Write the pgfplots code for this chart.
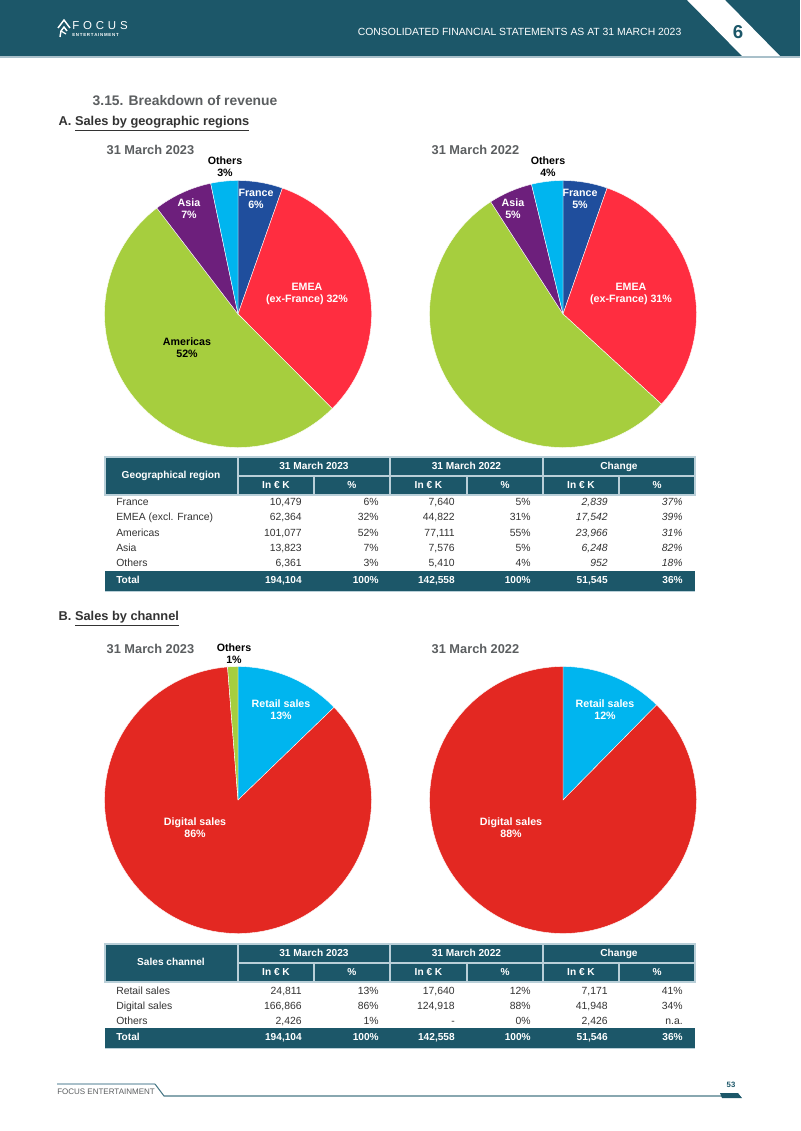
\documentclass[border=0pt]{standalone}
\usepackage{fontspec}
\setmainfont{Liberation Sans}
\usepackage{pgfplots}
\pgfplotsset{compat=1.18}

\definecolor{focusteal}{HTML}{1C5769}
\definecolor{headline}{HTML}{A9C0CA}
\definecolor{gridc}{HTML}{B9CFD8}
\definecolor{titlegray}{HTML}{5B5E60}
\definecolor{bodytext}{HTML}{333333}
\definecolor{geoFrance}{HTML}{1F4E9D}
\definecolor{geoEMEA}{HTML}{FF2D40}
\definecolor{geoAmericas}{HTML}{A6CE3E}
\definecolor{geoAsia}{HTML}{6D1F7C}
\definecolor{geoOthers}{HTML}{00B5EF}
\definecolor{chRetail}{HTML}{00B5EF}
\definecolor{chDigital}{HTML}{E32822}
\definecolor{chOthers}{HTML}{A6CE3E}

% pie radius (133.5 px at 0.75 pt per px)
\newcommand\pieR{100.125pt}

% slices clockwise from 12 o'clock; #1 = value/colour list.
% The paths are collected in a global list first, then issued
% at the top level of the axis so that pgfplots keeps them.
\newcommand\pieslices[1]{%
  \gdef\pietotal{0}%
  \foreach \v/\c in {#1} {\xdef\pietotal{\fpeval{\pietotal+\v}}}%
  \gdef\piecum{0}\gdef\pielist{}%
  \foreach \v/\c in {#1} {%
    \xdef\pa{\fpeval{90-360*\piecum/\pietotal}}%
    \xdef\piecum{\fpeval{\piecum+\v}}%
    \xdef\pb{\fpeval{90-360*\piecum/\pietotal}}%
    \ifnum\fpeval{\v>0}=1
      \xdef\pielist{\unexpanded\expandafter{\pielist}%
        \noexpand\fill[\c, draw=white, line width=0.3pt]
        (axis cs:0,0) -- (axis cs:\fpeval{cosd(\pa)},\fpeval{sind(\pa)})
        arc[start angle=\pa, end angle=\pb, radius=\pieR] -- cycle;}%
    \fi
  }%
  \pielist
}

% pie axis centred at page pixel (#1,#2)
\newcommand\pieaxis[3]{%
  \begin{axis}[at={({#1*0.75pt},{-#2*0.75pt})}, anchor=center, x=\pieR, y=\pieR,
    xmin=-1, xmax=1, ymin=-1, ymax=1, hide axis, clip=false]
    \pieslices{#3}
  \end{axis}}

\tikzset{
  plab/.style={font=\bfseries\fontsize{8}{9.2}\selectfont, align=center, text=white},
  plabk/.style={plab, text=black},
  sect/.style={anchor=west, font=\bfseries\fontsize{9.6}{12}\selectfont},
  th/.style={font=\bfseries\fontsize{7.6}{9}\selectfont, text=white,
    inner sep=0pt, text height=5.6pt, text depth=1.6pt},
  td/.style={font=\fontsize{7.8}{9}\selectfont, text=bodytext,
    inner sep=0pt, text height=5.6pt, text depth=1.6pt},
}

% table header: #1 top y, #2 first column title
\newcommand\tablehead[2]{%
  \fill[focusteal] (105,#1) rectangle (695,#1+38);
  \draw[gridc, line width=0.9pt] (105,#1) rectangle (695,#1+38);
  \draw[gridc, line width=0.9pt] (238,#1) -- (238,#1+38)
     (390,#1) -- (390,#1+38) (543,#1) -- (543,#1+38)
     (238,#1+19) -- (695,#1+19)
     (314,#1+19) -- (314,#1+38) (467,#1+19) -- (467,#1+38) (619,#1+19) -- (619,#1+38);
  \node[th] at (171,#1+19) {#2};
  \node[th] at (314,#1+9.5) {31 March 2023};
  \node[th] at (466.5,#1+9.5) {31 March 2022};
  \node[th] at (619,#1+9.5) {Change};
  \foreach \cx/\t in {276/In € K, 352/\%, 428.5/In € K, 505/\%, 581/In € K, 657/\%}
    \node[th] at (\cx,#1+28.5) {\t};
}

% body row: #1 y, #2 label, #3..#8 values, #9 font switch for change columns
\newcommand\trow[9]{%
  \node[td, anchor=west] at (116,#1) {#2};
  \node[td, anchor=east] at (302,#1) {#3};
  \node[td, anchor=east] at (379,#1) {#4};
  \node[td, anchor=east] at (455,#1) {#5};
  \node[td, anchor=east] at (531,#1) {#6};
  \node[td, anchor=east] at (608,#1) {#9#7};
  \node[td, anchor=east] at (683,#1) {#9#8};
}

% total row: #1 top y, #2..#7 values
\newcommand\ttotal[7]{%
  \fill[focusteal] (105,#1) rectangle (695,#1+20);
  \draw[gridc, line width=0.6pt] (105,#1+20) -- (695,#1+20);
  \node[th, anchor=west] at (116,#1+10) {Total};
  \node[th, anchor=east] at (302,#1+10) {#2};
  \node[th, anchor=east] at (379,#1+10) {#3};
  \node[th, anchor=east] at (455,#1+10) {#4};
  \node[th, anchor=east] at (531,#1+10) {#5};
  \node[th, anchor=east] at (608,#1+10) {#6};
  \node[th, anchor=east] at (683,#1+10) {#7};
}

\begin{document}
\begin{tikzpicture}[x=0.75pt, y=-0.75pt]
\useasboundingbox (0,0) rectangle (800,1131);
\fill[white] (0,0) rectangle (800,1131);

% ---- page header ----
\fill[focusteal] (0,0) rectangle (800,56);
\fill[headline] (0,56) rectangle (800,58);
\fill[white] (687,0) -- (725,0) -- (780,56) -- (742,56) -- cycle;
\node[font=\bfseries\fontsize{14}{14}\selectfont, text=focusteal] at (738,32) {6};
\node[anchor=east, text=white, font=\fontsize{7.8}{10}\selectfont] at (686,32)
  {CONSOLIDATED FINANCIAL STATEMENTS AS AT 31 MARCH 2023};
% logo
\draw[white, line width=1.1pt, line join=miter] (58,28) -- (64,20) -- (70,28);
\draw[white, line width=1.1pt] (60,37) -- (61,31) -- (64,27) -- (67,31);
\draw[white, line width=0.9pt] (61,31) -- (66,34);
\node[anchor=west, text=white, font=\fontsize{8.6}{9}\selectfont, inner sep=0pt] at (72,26)
  {F\,\,O\,\,C\,\,U\,\,S};
\node[anchor=west, text=white, font=\bfseries\fontsize{3.3}{4}\selectfont, inner sep=0pt] at (72,35)
  {E\,N\,T\,E\,R\,T\,A\,I\,N\,M\,E\,N\,T};

% ---- section titles ----
\node[sect, text=titlegray, font=\bfseries\fontsize{10.4}{12}\selectfont] at (88,101) {3.15. Breakdown of revenue};
\node[sect, text=bodytext] at (54,124) {A. \underline{Sales by geographic regions}};
\node[sect, text=titlegray] at (102,150) {31 March 2023};
\node[sect, text=titlegray] at (427,150) {31 March 2022};

% ---- geographic pies ----
\pieaxis{238}{314}{10479/geoFrance, 62364/geoEMEA, 101077/geoAmericas, 13823/geoAsia, 6361/geoOthers}
\pieaxis{563}{314}{7640/geoFrance, 44822/geoEMEA, 77111/geoAmericas, 7576/geoAsia, 5410/geoOthers}

\node[plabk] at (225,167) {Others\\3\%};
\node[plab] at (256,199) {France\\6\%};
\node[plab] at (189,209) {Asia\\7\%};
\node[plab] at (307,294) {EMEA\\(ex-France) 32\%};
\node[plabk] at (187,348) {Americas\\52\%};

\node[plabk] at (548,167) {Others\\4\%};
\node[plab] at (580,199) {France\\5\%};
\node[plab] at (513,209) {Asia\\5\%};
\node[plab] at (631,294) {EMEA\\(ex-France) 31\%};

% ---- geographic table ----
\tablehead{457}{Geographical region}
\trow{503}{France}{10,479}{6\%}{7,640}{5\%}{2,839}{37\%}{\itshape}
\trow{518}{EMEA (excl. France)}{62,364}{32\%}{44,822}{31\%}{17,542}{39\%}{\itshape}
\trow{533.5}{Americas}{101,077}{52\%}{77,111}{55\%}{23,966}{31\%}{\itshape}
\trow{548.5}{Asia}{13,823}{7\%}{7,576}{5\%}{6,248}{82\%}{\itshape}
\trow{563.5}{Others}{6,361}{3\%}{5,410}{4\%}{952}{18\%}{\itshape}
\ttotal{571}{194,104}{100\%}{142,558}{100\%}{51,545}{36\%}

% ---- channel section ----
\node[sect, text=bodytext] at (54,619) {B. \underline{Sales by channel}};
\node[sect, text=titlegray] at (102,649) {31 March 2023};
\node[sect, text=titlegray] at (427,649) {31 March 2022};

\pieaxis{238}{800}{24811/chRetail, 166866/chDigital, 2426/chOthers}
\pieaxis{563}{800}{17640/chRetail, 124918/chDigital, 0/chOthers}

\node[plabk] at (234,654) {Others\\1\%};
\node[plab] at (281,710) {Retail sales\\13\%};
\node[plab] at (195,828) {Digital sales\\86\%};
\node[plab] at (605,710) {Retail sales\\12\%};
\node[plab] at (511,828) {Digital sales\\88\%};

% ---- channel table ----
\tablehead{944}{Sales channel}
\trow{992}{Retail sales}{24,811}{13\%}{17,640}{12\%}{7,171}{41\%}{}
\trow{1007}{Digital sales}{166,866}{86\%}{124,918}{88\%}{41,948}{34\%}{}
\trow{1021.5}{Others}{2,426}{1\%}{-}{0\%}{2,426}{n.a.}{}
\ttotal{1028}{194,104}{100\%}{142,558}{100\%}{51,546}{36\%}

% ---- page footer ----
\draw[headline, line width=1.5pt] (57,1084) -- (155,1084);
\draw[focusteal!80, line width=0.8pt] (155,1084) -- (164,1096) -- (722,1096);
\fill[focusteal] (720,1093) -- (738,1093) -- (742,1098) -- (722,1098) -- cycle;
\node[anchor=west, text=titlegray, font=\fontsize{6}{7}\selectfont, inner sep=0pt] at (57,1092)
  {FOCUS ENTERTAINMENT};
\node[text=focusteal, font=\bfseries\fontsize{5.8}{7}\selectfont] at (731,1085) {53};
\end{tikzpicture}
\end{document}
